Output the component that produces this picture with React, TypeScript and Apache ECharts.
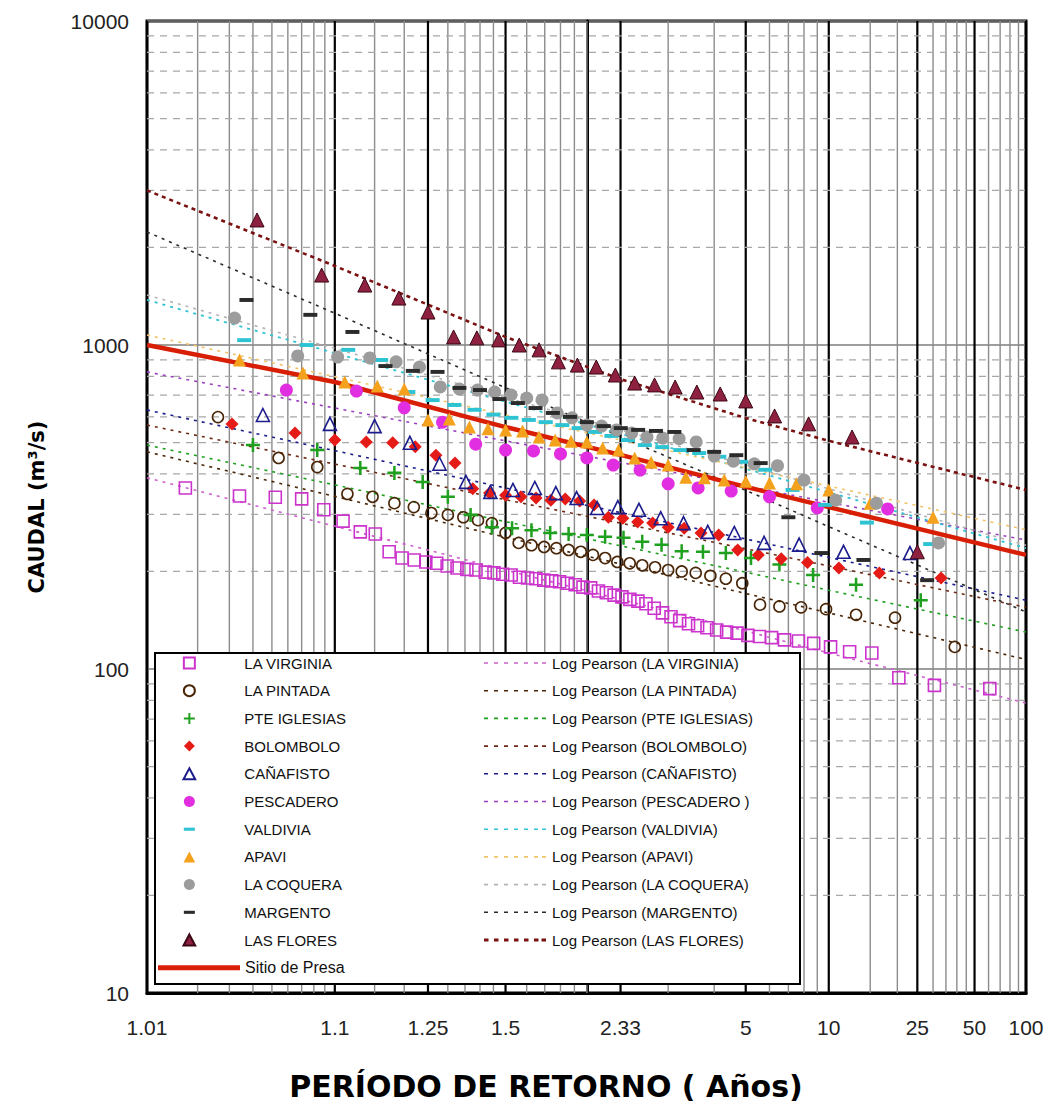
import React, { useEffect, useRef } from 'react';
import * as echarts from 'echarts';

// ---- Observed annual peaks: return period (años) and discharge (m³/s) ----
const VIRGINIA_T = [1.017, 1.034, 1.052, 1.07, 1.089, 1.109, 1.13, 1.151, 1.173, 1.196, 1.22, 1.245, 1.271, 1.298, 1.326, 1.356, 1.386, 1.419, 1.452, 1.488, 1.525, 1.564, 1.605, 1.649, 1.694, 1.743, 1.794, 1.848, 1.906, 1.968, 2.033, 2.103, 2.179, 2.259, 2.346, 2.44, 2.542, 2.652, 2.773, 2.905, 3.05, 3.211, 3.389, 3.588, 3.813, 4.067, 4.357, 4.692, 5.083, 5.545, 6.1, 6.778, 7.625, 8.714, 10.17, 12.2, 15.25, 20.33, 30.5, 61];
const VIRGINIA_Q = [362, 342, 339, 335, 310, 286, 265, 261, 230, 220, 217, 214, 212, 208, 205, 203, 202, 199, 198, 196, 195, 192, 191, 190, 188, 187, 186, 184, 182, 179, 178, 174, 172, 169, 167, 164, 162, 159, 154, 149, 145, 141, 138, 136, 134, 132, 130, 129, 127, 126, 125, 123, 122, 120, 117, 113, 112, 94, 89, 87];

const PINTADA_T = [1.026, 1.054, 1.083, 1.114, 1.147, 1.182, 1.219, 1.258, 1.3, 1.345, 1.393, 1.444, 1.5, 1.56, 1.625, 1.696, 1.773, 1.857, 1.95, 2.053, 2.167, 2.294, 2.438, 2.6, 2.786, 3, 3.25, 3.545, 3.9, 4.333, 4.875, 5.571, 6.5, 7.8, 9.75, 13, 19.5, 39];
const PINTADA_Q = [599, 448, 420, 347, 340, 325, 316, 303, 299, 294, 288, 282, 263, 245, 241, 238, 236, 233, 230, 225, 220, 214, 212, 209, 206, 202, 200, 198, 194, 190, 184, 158, 156, 155, 153, 147, 144, 117];

const IGLESIAS_T = [1.04, 1.083, 1.13, 1.182, 1.238, 1.3, 1.368, 1.444, 1.529, 1.625, 1.733, 1.857, 2, 2.167, 2.364, 2.6, 2.889, 3.25, 3.714, 4.333, 5.2, 6.5, 8.667, 13, 26];
const IGLESIAS_Q = [491, 474, 417, 403, 378, 340, 299, 274, 272, 268, 263, 261, 259, 256, 254, 247, 242, 231, 230, 228, 220, 210, 195, 182, 163];

const BOLOMBOLO_T = [1.031, 1.065, 1.1, 1.138, 1.179, 1.222, 1.269, 1.32, 1.375, 1.435, 1.5, 1.571, 1.65, 1.737, 1.833, 1.941, 2.063, 2.2, 2.357, 2.538, 2.75, 3, 3.3, 3.667, 4.125, 4.714, 5.5, 6.6, 8.25, 11, 16.5, 33];
const BOLOMBOLO_Q = [570, 535, 509, 502, 499, 485, 457, 432, 360, 349, 344, 340, 337, 332, 335, 330, 321, 294, 292, 284, 282, 274, 272, 263, 259, 233, 225, 219, 213, 205, 198, 191];

const CANAFISTO_T = [1.045, 1.095, 1.15, 1.211, 1.278, 1.353, 1.438, 1.533, 1.643, 1.769, 1.917, 2.091, 2.3, 2.556, 2.875, 3.286, 3.833, 4.6, 5.75, 7.667, 11.5, 23];
const CANAFISTO_Q = [608, 571, 562, 499, 430, 378, 352, 357, 362, 349, 337, 314, 316, 310, 292, 282, 265, 263, 245, 242, 230, 228];

const PESCADERO_T = [1.059, 1.125, 1.2, 1.286, 1.385, 1.5, 1.636, 1.8, 2, 2.25, 2.571, 3, 3.6, 4.5, 6, 9, 18];
const PESCADERO_Q = [726, 721, 640, 578, 494, 474, 471, 461, 448, 426, 411, 373, 362, 354, 340, 314, 312];

const VALDIVIA_T = [1.036, 1.074, 1.115, 1.16, 1.208, 1.261, 1.318, 1.381, 1.45, 1.526, 1.611, 1.706, 1.813, 1.933, 2.071, 2.231, 2.417, 2.636, 2.9, 3.222, 3.625, 4.143, 4.833, 5.8, 7.25, 9.667, 14.5, 29];
const VALDIVIA_Q = [1035, 1000, 966, 899, 716, 676, 653, 631, 610, 596, 587, 578, 566, 554, 539, 524, 509, 491, 484, 474, 464, 452, 436, 412, 357, 321, 283, 243];

const APAVI_T = [1.034, 1.071, 1.111, 1.154, 1.2, 1.25, 1.304, 1.364, 1.429, 1.5, 1.579, 1.667, 1.765, 1.875, 2, 2.143, 2.308, 2.5, 2.727, 3, 3.333, 3.75, 4.286, 5, 6, 7.5, 10, 15, 30];
const APAVI_Q = [899, 820, 769, 747, 731, 587, 591, 558, 551, 547, 543, 520, 509, 505, 502, 481, 474, 448, 435, 426, 391, 389, 383, 380, 375, 373, 357, 325, 294];

const COQUERA_T = [1.032, 1.067, 1.103, 1.143, 1.185, 1.231, 1.28, 1.333, 1.391, 1.455, 1.524, 1.6, 1.684, 1.778, 1.882, 2, 2.133, 2.286, 2.462, 2.667, 2.909, 3.2, 3.556, 4, 4.571, 5.333, 6.4, 8, 10.667, 16, 32];
const COQUERA_Q = [1211, 925, 918, 912, 887, 855, 742, 731, 726, 716, 701, 686, 676, 617, 596, 566, 562, 547, 535, 520, 516, 514, 502, 454, 438, 430, 424, 383, 332, 325, 245];

const MARGENTO_T = [1.037, 1.077, 1.12, 1.167, 1.217, 1.273, 1.333, 1.4, 1.474, 1.556, 1.647, 1.75, 1.867, 2, 2.154, 2.333, 2.545, 2.8, 3.111, 3.5, 4, 4.667, 5.6, 7, 9.333, 14, 28];
const MARGENTO_Q = [1377, 1239, 1097, 861, 832, 826, 737, 726, 681, 662, 639, 617, 600, 578, 562, 554, 547, 543, 539, 474, 468, 457, 432, 294, 228, 217, 188];

const FLORES_T = [1.042, 1.087, 1.136, 1.19, 1.25, 1.316, 1.389, 1.471, 1.563, 1.667, 1.786, 1.923, 2.083, 2.273, 2.5, 2.778, 3.125, 3.571, 4.167, 5, 6.25, 8.333, 12.5, 25];
const FLORES_Q = [2432, 1644, 1531, 1396, 1264, 1059, 1052, 1037, 1000, 966, 887, 867, 855, 808, 763, 753, 742, 716, 706, 672, 604, 571, 520, 230];

// ---- Fitted Log Pearson III curves, sampled at these return periods ----
const FIT_T = [1.01, 1.1, 1.5, 2.33, 5, 10, 100];
const VIRGINIA_FIT = [389, 276, 202, 164, 131, 112, 78.5];
const PINTADA_FIT = [468, 341, 255, 211, 171, 149, 107];
const IGLESIAS_FIT = [491, 370, 285, 240, 199, 175, 130];
const BOLOMBOLO_FIT = [566, 429, 333, 282, 235, 208, 155];
const CANAFISTO_FIT = [630, 472, 362, 304, 252, 221, 163];
const PESCADERO_FIT = [826, 639, 506, 434, 367, 327, 250];
const VALDIVIA_FIT = [1377, 944, 668, 532, 415, 351, 236];
const APAVI_FIT = [1074, 798, 608, 509, 418, 367, 269];
const COQUERA_FIT = [1427, 976, 689, 547, 426, 360, 241];
const MARGENTO_FIT = [2233, 1253, 738, 521, 356, 275, 150];
const FLORES_FIT = [3000, 1754, 1059, 785, 595, 506, 357];

// Design curve at the dam site
const PRESA_Q = [1000, 769, 558, 458, 365, 316, 225];

// ---- Axis ticks ----
const LABEL_T = [1.01, 1.1, 1.25, 1.5, 2.33, 5, 10, 25, 50, 100];
const LABEL_TEXT = ['1.01', '1.1', '1.25', '1.5', '2.33', '5', '10', '25', '50', '100'];
const GRID_T = [1.02, 1.03, 1.04, 1.05, 1.06, 1.07, 1.08, 1.09, 1.15, 1.2, 1.3, 1.35, 1.4, 1.45, 1.6, 1.7, 1.8, 1.9, 2, 3, 4, 6, 7, 8, 9, 15, 20, 30, 35, 40, 45, 60, 70, 80, 90];
const MINOR_Q = [20, 30, 40, 50, 60, 70, 80, 90, 200, 300, 400, 500, 600, 700, 800, 900, 2000, 3000, 4000, 5000, 6000, 7000, 8000, 9000];
const Q_MIN = 10;
const Q_MAX = 10000;

const STATIONS = ['LA VIRGINIA', 'LA PINTADA', 'PTE IGLESIAS', 'BOLOMBOLO', 'CAÑAFISTO', 'PESCADERO', 'VALDIVIA', 'APAVI', 'LA COQUERA', 'MARGENTO', 'LAS FLORES'];
const FIT_NAMES = ['Log Pearson (LA VIRGINIA)', 'Log Pearson (LA PINTADA)', 'Log Pearson (PTE IGLESIAS)', 'Log Pearson (BOLOMBOLO)', 'Log Pearson (CAÑAFISTO)', 'Log Pearson (PESCADERO )', 'Log Pearson (VALDIVIA)', 'Log Pearson (APAVI)', 'Log Pearson (LA COQUERA)', 'Log Pearson (MARGENTO)', 'Log Pearson (LAS FLORES)'];
const PRESA_NAME = 'Sitio de Presa';

const OBS_T = [VIRGINIA_T, PINTADA_T, IGLESIAS_T, BOLOMBOLO_T, CANAFISTO_T, PESCADERO_T, VALDIVIA_T, APAVI_T, COQUERA_T, MARGENTO_T, FLORES_T];
const OBS_Q = [VIRGINIA_Q, PINTADA_Q, IGLESIAS_Q, BOLOMBOLO_Q, CANAFISTO_Q, PESCADERO_Q, VALDIVIA_Q, APAVI_Q, COQUERA_Q, MARGENTO_Q, FLORES_Q];
const FIT_Q = [VIRGINIA_FIT, PINTADA_FIT, IGLESIAS_FIT, BOLOMBOLO_FIT, CANAFISTO_FIT, PESCADERO_FIT, VALDIVIA_FIT, APAVI_FIT, COQUERA_FIT, MARGENTO_FIT, FLORES_FIT];

// ---- Marker shapes (10x10 boxes; the dash keeps a square box so it stays thin) ----
const SQUARE = 'path://M0 0H10V10H0Z';
const PLUS = 'path://M4.1 0H5.9V4.1H10V5.9H5.9V10H4.1V5.9H0V4.1H4.1Z';
const DIAMOND = 'path://M5 0L10 5L5 10L0 5Z';
const TRIANGLE = 'path://M5 0L10 9.4L0 9.4Z';
const DASH = 'path://M0 0M10 10M0 3.6H10V6.4H0Z';
const DOTS = 'path://M0 0M62 11M0 4.7h4v1.6h-4zM10 4.7h4v1.6h-4zM20 4.7h4v1.6h-4zM30 4.7h4v1.6h-4zM40 4.7h4v1.6h-4zM50 4.7h4v1.6h-4zM58 4.7h4v1.6h-4z';
const DOTS_HEAVY = 'path://M0 0M62 11M0 4.1h4.5v2.8h-4.5zM10 4.1h4.5v2.8h-4.5zM20 4.1h4.5v2.8h-4.5zM30 4.1h4.5v2.8h-4.5zM40 4.1h4.5v2.8h-4.5zM50 4.1h4.5v2.8h-4.5zM57.5 4.1h4.5v2.8h-4.5z';

const CLEAR = 'rgba(255,255,255,0)';
const MARKERS = [
  { symbol: SQUARE, size: 12, fill: CLEAR, stroke: '#CC33CC', bw: 1.6 },
  { symbol: 'circle', size: 11, fill: CLEAR, stroke: '#4A2608', bw: 1.6 },
  { symbol: PLUS, size: 14, fill: '#1FA01F', stroke: '#1FA01F', bw: 0 },
  { symbol: DIAMOND, size: 13, fill: '#E41B17', stroke: '#E41B17', bw: 0 },
  { symbol: TRIANGLE, size: 13, fill: CLEAR, stroke: '#1C1C8C', bw: 1.6 },
  { symbol: 'circle', size: 13, fill: '#E02EE0', stroke: '#E02EE0', bw: 0 },
  { symbol: DASH, size: 14, fill: '#2EC3D3', stroke: '#2EC3D3', bw: 0 },
  { symbol: TRIANGLE, size: 13, fill: '#F4A21E', stroke: '#F4A21E', bw: 0 },
  { symbol: 'circle', size: 13, fill: '#9C9C9C', stroke: '#9C9C9C', bw: 0 },
  { symbol: DASH, size: 14, fill: '#2B2B2B', stroke: '#2B2B2B', bw: 0 },
  { symbol: TRIANGLE, size: 14, fill: '#8E2140', stroke: '#3C0814', bw: 1 },
];
const FIT_STYLES = [
  { color: '#CC5FCC', width: 1.6, dash: [3, 5] },
  { color: '#4A2608', width: 1.6, dash: [3, 5] },
  { color: '#1FA01F', width: 1.6, dash: [3, 5] },
  { color: '#6B2A14', width: 1.6, dash: [3, 5] },
  { color: '#1C1C8C', width: 1.6, dash: [3, 5] },
  { color: '#9A3FC0', width: 1.6, dash: [3, 5] },
  { color: '#2EC3D3', width: 1.8, dash: [3, 5] },
  { color: '#F2C46A', width: 1.6, dash: [3, 5] },
  { color: '#B4B4B4', width: 1.6, dash: [3, 5] },
  { color: '#2B2B2B', width: 1.6, dash: [3, 5] },
  { color: '#7A1010', width: 2.6, dash: [4, 4] },
];

// Standard normal quantile (Acklam): the axis is normal-probability paper
function normInv(p: number): number {
  const a = [-39.69683028665376, 220.9460984245205, -275.9285104469687, 138.357751867269, -30.66479806614716, 2.506628277459239];
  const b = [-54.47609879822406, 161.5858368580409, -155.6989798598866, 66.80131188771972, -13.28068155288572];
  const c = [-0.007784894002430293, -0.3223964580411365, -2.400758277161838, -2.549671348850015, 4.374664141464968, 2.938163982698783];
  const d = [0.007784695709041462, 0.3224671290700398, 2.445134137142996, 3.754408661907416];
  const pl = 0.02425;
  if (p < pl) {
    const q = Math.sqrt(-2 * Math.log(p));
    return (((((c[0] * q + c[1]) * q + c[2]) * q + c[3]) * q + c[4]) * q + c[5]) / ((((d[0] * q + d[1]) * q + d[2]) * q + d[3]) * q + 1);
  }
  if (p <= 1 - pl) {
    const q = p - 0.5;
    const r = q * q;
    return ((((((a[0] * r + a[1]) * r + a[2]) * r + a[3]) * r + a[4]) * r + a[5]) * q) / (((((b[0] * r + b[1]) * r + b[2]) * r + b[3]) * r + b[4]) * r + 1);
  }
  const q = Math.sqrt(-2 * Math.log(1 - p));
  return -(((((c[0] * q + c[1]) * q + c[2]) * q + c[3]) * q + c[4]) * q + c[5]) / ((((d[0] * q + d[1]) * q + d[2]) * q + d[3]) * q + 1);
}
const zOf = (t: number) => normInv(1 - 1 / t);
const Z_MIN = zOf(LABEL_T[0]);
const Z_MAX = zOf(LABEL_T[LABEL_T.length - 1]);
const LABEL_Z = LABEL_T.map(zOf);

const pairs = (ts: number[], qs: number[]) => ts.slice(0, qs.length).map((t, i) => [zOf(t), qs[i]]);

const TICK_FONT = "'Liberation Sans', Arial, sans-serif";
const LEGEND_FONT = "'Liberation Sans', Arial, sans-serif";

function buildOption(): any {
  const verticalGrid = {
    type: 'custom',
    silent: true,
    z: 1,
    encode: { x: 0, y: 1 },
    data: [
      ...GRID_T.map((t) => [zOf(t), 100, 0]),
      ...LABEL_T.map((t) => [zOf(t), 100, 1]),
    ],
    renderItem: (_p: any, api: any) => {
      const x = api.value(0);
      const heavy = api.value(2) === 1;
      const top = api.coord([x, Q_MAX]);
      const bot = api.coord([x, Q_MIN]);
      return {
        type: 'line',
        shape: { x1: top[0], y1: top[1], x2: bot[0], y2: bot[1] },
        style: { stroke: heavy ? '#000000' : '#8C8C8C', lineWidth: heavy ? 2.2 : 1.4 },
      };
    },
  };
  const horizontalGrid = {
    type: 'custom',
    silent: true,
    z: 1,
    encode: { x: 0, y: 1 },
    data: MINOR_Q.map((q) => [Z_MIN, q]),
    renderItem: (_p: any, api: any) => {
      const q = api.value(1);
      const a = api.coord([Z_MIN, q]);
      const b = api.coord([Z_MAX, q]);
      return {
        type: 'line',
        shape: { x1: a[0], y1: a[1], x2: b[0], y2: b[1] },
        style: { stroke: '#A8A8A8', lineWidth: 1.2, lineDash: [7, 6] },
      };
    },
  };

  const fitSeries = FIT_NAMES.map((name, i) => ({
    type: 'line',
    name,
    silent: true,
    z: 2,
    symbol: 'none',
    data: pairs(FIT_T, FIT_Q[i]),
    lineStyle: { color: FIT_STYLES[i].color, width: FIT_STYLES[i].width, type: FIT_STYLES[i].dash },
    itemStyle: { color: FIT_STYLES[i].color },
  }));

  const presaSeries = {
    type: 'line',
    name: PRESA_NAME,
    silent: true,
    z: 3,
    symbol: 'none',
    data: pairs(FIT_T, PRESA_Q),
    lineStyle: { color: '#D81E05', width: 4.5 },
    itemStyle: { color: '#D81E05' },
  };

  const obsSeries = STATIONS.map((name, i) => ({
    type: 'scatter',
    name,
    silent: true,
    z: 4,
    symbol: MARKERS[i].symbol,
    symbolSize: MARKERS[i].size,
    data: pairs(OBS_T[i], OBS_Q[i]),
    itemStyle: {
      color: MARKERS[i].fill,
      borderColor: MARKERS[i].stroke,
      borderWidth: MARKERS[i].bw,
      opacity: 1,
    },
  }));

  // Legend rows: first row centred at y = 663, one row every 27.7 px
  const rowPitch = 27.7;
  const firstRow = 663;
  const itemH = 11;
  const textH = 15;
  const legendTop = firstRow - textH / 2;

  return {
    animation: false,
    backgroundColor: '#ffffff',
    grid: {
      left: 147,
      right: 38,
      top: 21,
      bottom: 112,
      show: true,
      borderColor: '#000000',
      borderWidth: 3,
      containLabel: false,
      outerBoundsMode: 'none',
    },
    xAxis: {
      type: 'value',
      min: Z_MIN,
      max: Z_MAX,
      axisLine: { show: true, onZero: false, lineStyle: { color: '#000', width: 3 } },
      axisTick: { show: false },
      splitLine: { show: false },
      axisLabel: {
        customValues: LABEL_Z,
        margin: 24,
        fontSize: 21,
        fontFamily: TICK_FONT,
        color: '#222',
        formatter: (v: number) => {
          let best = 0;
          for (let i = 1; i < LABEL_Z.length; i++) {
            if (Math.abs(LABEL_Z[i] - v) < Math.abs(LABEL_Z[best] - v)) best = i;
          }
          return LABEL_TEXT[best];
        },
      },
    },
    yAxis: {
      type: 'log',
      logBase: 10,
      min: Q_MIN,
      max: Q_MAX,
      name: 'CAUDAL (m³/s)',
      nameLocation: 'middle',
      nameRotate: 90,
      nameGap: 100,
      nameTextStyle: { fontFamily: "'DejaVu Sans', sans-serif", fontWeight: 'bold', fontSize: 21, color: '#000' },
      axisLine: { show: true, lineStyle: { color: '#000', width: 3 } },
      axisTick: { show: false },
      axisLabel: { margin: 18, fontSize: 21, fontFamily: TICK_FONT, color: '#222', formatter: (v: number) => String(v) },
      splitLine: { show: true, lineStyle: { color: '#7E7E7E', width: 1.5 } },
    },
    legend: [
      {
        // marker icons are laid out from the legend's left edge; the names follow at left + itemWidth / 2 + ~10
        data: STATIONS,
        orient: 'vertical',
        left: 182.5,
        top: legendTop,
        padding: 0,
        itemWidth: 100,
        itemHeight: itemH,
        itemGap: rowPitch - textH,
        selectedMode: false,
        z: 20,
        textStyle: { fontFamily: LEGEND_FONT, fontSize: 15, color: '#111' },
      },
      {
        data: FIT_NAMES.map((name, i) => ({ name, icon: i === 10 ? DOTS_HEAVY : DOTS })),
        orient: 'vertical',
        left: 484,
        top: legendTop,
        padding: 0,
        itemWidth: 64,
        itemHeight: itemH,
        itemGap: rowPitch - textH,
        selectedMode: false,
        z: 20,
        itemStyle: { borderWidth: 0 },
        textStyle: { fontFamily: LEGEND_FONT, fontSize: 15, color: '#111' },
      },
      {
        data: [{ name: PRESA_NAME, icon: 'rect' }],
        orient: 'vertical',
        left: 158,
        top: firstRow + 11 * rowPitch - 8,
        padding: 0,
        itemWidth: 82,
        itemHeight: 5,
        selectedMode: false,
        z: 20,
        itemStyle: { borderWidth: 0 },
        textStyle: { fontFamily: LEGEND_FONT, fontSize: 16, color: '#111' },
      },
    ],
    graphic: [
      {
        type: 'rect',
        z: 10,
        silent: true,
        shape: { x: 155, y: 653, width: 645, height: 331 },
        style: { fill: '#ffffff', stroke: '#000000', lineWidth: 2 },
      },
      {
        type: 'text',
        z: 10,
        silent: true,
        x: 546,
        y: 1086,
        style: {
          text: 'PERÍODO DE RETORNO ( Años)',
          fontFamily: "'DejaVu Sans', sans-serif",
          fontWeight: 'bold',
          fontSize: 30,
          fill: '#000',
          align: 'center',
          verticalAlign: 'middle',
        },
      },
    ],
    series: [verticalGrid, horizontalGrid, ...fitSeries, presaSeries, ...obsSeries],
  };
}

export default function App() {
  const ref = useRef<HTMLDivElement>(null);
  useEffect(() => {
    document.body.style.margin = '0';
    if (!ref.current) return;
    const chart = echarts.init(ref.current, null, { renderer: 'svg' });
    chart.setOption(buildOption());
    return () => chart.dispose();
  }, []);
  return <div ref={ref} style={{ width: 1064, height: 1105, background: '#ffffff' }} />;
}
